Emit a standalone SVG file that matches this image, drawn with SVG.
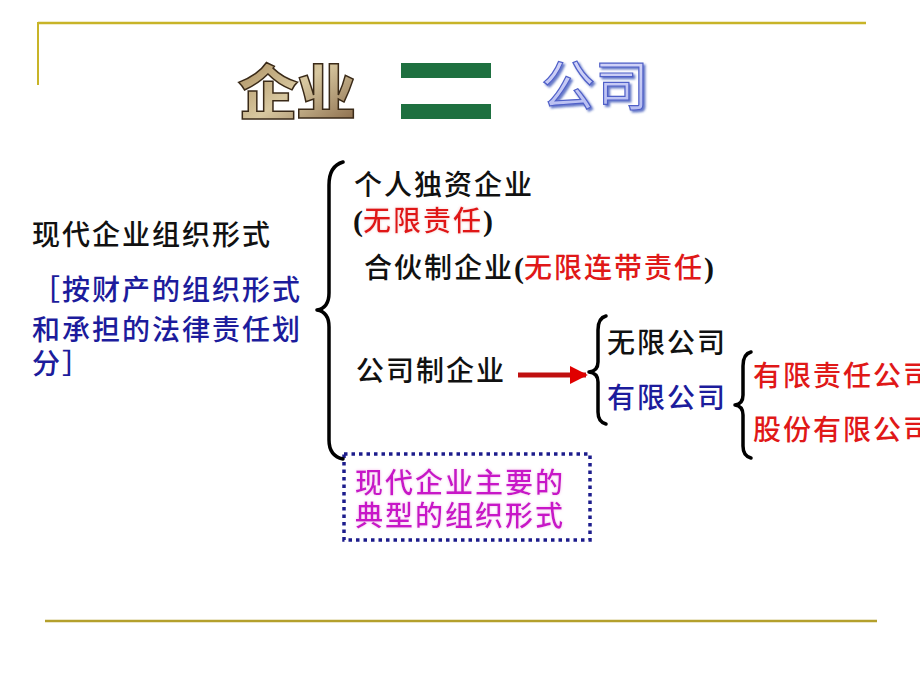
<svg xmlns="http://www.w3.org/2000/svg" width="920" height="690" viewBox="0 0 920 690">
<style>
.t{font-family:"Noto Sans CJK SC","Liberation Sans",sans-serif;font-size:28px;font-weight:500;letter-spacing:2px}
.k{fill:#111}
.b{fill:#1c1c9c}
.r{fill:#e01818}
.m{fill:#c818c8}
.p{font-family:"Liberation Serif",serif;font-weight:bold;fill:#111;font-size:30px}
.brace{fill:none;stroke:#000;stroke-width:3.5;stroke-linecap:round;stroke-linejoin:round}
.rule{stroke:#b4a02c;stroke-width:2.5}
</style>
<defs>
<linearGradient id="wood" x1="0" y1="0" x2="1" y2="1">
<stop offset="0" stop-color="#a08050"/><stop offset="0.5" stop-color="#d8c8a0"/><stop offset="1" stop-color="#806040"/>
</linearGradient>
<linearGradient id="sky" x1="0" y1="0" x2="0" y2="1">
<stop offset="0" stop-color="#dcdcfa"/><stop offset="1" stop-color="#b0b8f0"/>
</linearGradient>
<filter id="shadow" x="-10%" y="-10%" width="130%" height="130%">
<feDropShadow dx="2" dy="2" stdDeviation="0.8" flood-color="#2040b0" flood-opacity="0.7"/>
</filter>
<filter id="glow" x="-10%" y="-20%" width="120%" height="140%">
<feGaussianBlur in="SourceAlpha" stdDeviation="1.5" result="b"/>
<feFlood flood-color="#f8c0f0"/><feComposite in2="b" operator="in" result="g"/>
<feMerge><feMergeNode in="g"/><feMergeNode in="SourceGraphic"/></feMerge>
</filter>
<filter id="glowr" x="-10%" y="-20%" width="120%" height="140%">
<feGaussianBlur in="SourceAlpha" stdDeviation="1.5" result="b"/>
<feFlood flood-color="#f8d0d0"/><feComposite in2="b" operator="in" result="g"/>
<feMerge><feMergeNode in="g"/><feMergeNode in="SourceGraphic"/></feMerge>
</filter>
<marker id="ah" viewBox="0 0 10 10" refX="9" refY="5" markerWidth="3.6" markerHeight="3.6" orient="auto" markerUnits="strokeWidth">
<path d="M0,0 L10,5 L0,10 z" fill="#e00000"/>
</marker>
</defs>
<rect width="920" height="690" fill="#fff"/>
<g id="frame">
<line x1="38" y1="23" x2="866" y2="23" stroke="#c8b428" stroke-width="2.5"/>
<line x1="38" y1="22" x2="38" y2="85" stroke="#c8b428" stroke-width="2"/>
<line class="rule" x1="45" y1="621" x2="877" y2="621"/>
</g>
<g id="title">
<text x="238" y="115" font-family="Noto Sans CJK SC,sans-serif" font-weight="900" font-size="60" fill="url(#wood)" stroke="#3a2a18" stroke-width="1.5" letter-spacing="-2">企业</text>
<rect x="401" y="63" width="90" height="15" fill="#1e7040"/>
<rect x="401" y="104" width="90" height="15" fill="#1e7040"/>
<text x="541" y="106" font-family="Noto Sans CJK SC,sans-serif" font-size="54" fill="url(#sky)" stroke="#5060c8" stroke-width="1.2" filter="url(#shadow)">公司</text>
</g>
<g id="root">
<text class="t k" x="32" y="245">现代企业组织形式</text>
<text class="t b" x="32" y="300">［按财产的组织形式</text>
<text class="t b" x="32" y="340">和承担的法律责任划</text>
<text class="t b" x="32" y="374">分］</text>
</g>
<g id="sole">
<text class="t k" x="354" y="195">个人独资企业</text>
<text x="353" y="231"><tspan class="p">(</tspan><tspan class="t r" filter="url(#glowr)">无限责任</tspan><tspan class="p">)</tspan></text>
</g>
<g id="partner">
<text x="364" y="278"><tspan class="t k">合伙制企业</tspan><tspan class="p">(</tspan><tspan class="t r">无限连带责任</tspan><tspan class="p">)</tspan></text>
</g>
<g id="corp">
<text class="t k" x="356" y="381">公司制企业</text>
</g>
<g id="unlimited">
<text class="t k" x="607" y="353">无限公司</text>
</g>
<g id="limited">
<text class="t b" x="607" y="408">有限公司</text>
</g>
<g id="llc">
<text class="t r" x="753" y="386">有限责任公司</text>
</g>
<g id="jsc">
<text class="t r" x="753" y="440">股份有限公司</text>
</g>
<g id="note">
<rect x="344" y="454" width="246" height="86" fill="none" stroke="#1c1c8c" stroke-width="3.5" stroke-dasharray="3.5 4"/>
<g filter="url(#glow)">
<text class="t m" x="355" y="493">现代企业主要的</text>
<text class="t m" x="355" y="526">典型的组织形式</text>
</g>
</g>
<g id="connectors">
<path class="brace" d="M343,162 Q329,166 329,185 L329,293 Q329,308 317,310 Q329,312 329,327 L329,440 Q329,456 343,459"/>
<path class="brace" d="M606,316 Q598,318 598,330 L598,362 Q598,371 589,372 Q598,373 598,382 L598,412 Q598,422 606,424"/>
<path class="brace" d="M751,352 Q743,354 743,366 L743,395 Q743,404 735,405 Q743,406 743,415 L743,446 Q743,456 751,458"/>
<line x1="518" y1="375" x2="586" y2="375" stroke="#c01010" stroke-width="5" marker-end="url(#ah)"/>
</g>
</svg>
